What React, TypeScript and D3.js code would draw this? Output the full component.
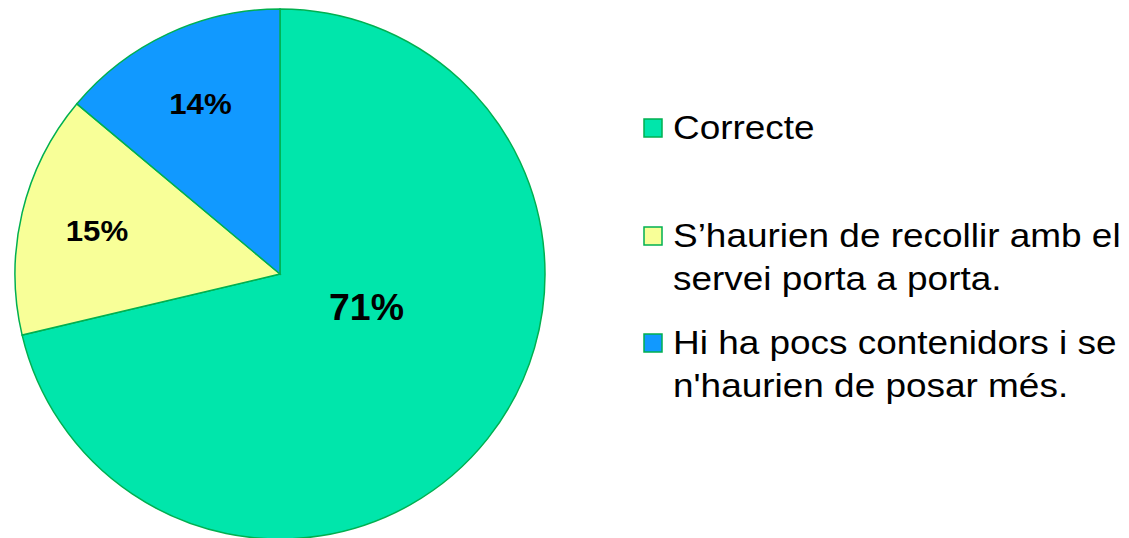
import React from 'react';
import * as d3 from 'd3';

const categories = [
  'Correcte',
  'S’haurien de recollir amb el servei porta a porta.',
  "Hi ha pocs contenidors i se n'haurien de posar més.",
];
const legendLines = [
  ['Correcte'],
  ['S’haurien de recollir amb el', 'servei porta a porta.'],
  ['Hi ha pocs contenidors i se', "n'haurien de posar més."],
];
const values = [71.3, 14.8, 13.9];
const percentLabels = ['71%', '15%', '14%'];
const colors = ['#00E6AB', '#F8FF98', '#1199FF'];

const width = 1129;
const height = 538;
const cx = 280;
const cy = 274;
const radius = 265;
const textStretch = 1.12;

const App: React.FC = () => {
  const pie = d3.pie<number>().sort(null).value(d => d);
  const arcs = pie(values);
  const arc = d3.arc<d3.PieArcDatum<number>>().innerRadius(0).outerRadius(radius);

  const labelPos = (a: d3.PieArcDatum<number>, i: number): [number, number] => {
    const mid = (a.startAngle + a.endAngle) / 2;
    if (i === 0) {
      // large slice: label pulled toward the centre-right
      return d3.pointRadial(mid - 0.3, radius * 0.35) as [number, number];
    }
    return d3.pointRadial(mid, radius * 0.71) as [number, number];
  };

  // legend rows: baseline of first line for each item
  const legendY = d3.scaleOrdinal<string, number>().domain(categories).range([139, 247, 354]);
  const lineHeight = 43;
  const textX = 673;

  return (
    <svg
      width={width}
      height={height}
      style={{ position: 'absolute', left: 0, top: 0, background: '#fff' }}
      fontFamily="'Liberation Sans', Arial, sans-serif"
    >
      <g transform={`translate(${cx},${cy})`}>
        {arcs.map((a, i) => (
          <path key={i} d={arc(a) || ''} fill={colors[i]} stroke="#00B050" strokeWidth={1.5} />
        ))}
        {arcs.map((a, i) => {
          const [x, y] = labelPos(a, i);
          return (
            <text
              key={i}
              transform={`translate(${x},${y}) scale(1.04,1)`}
              textAnchor="middle"
              dominantBaseline="central"
              fontWeight="bold"
              fontSize={i === 0 ? 36 : 30}
              fill="#000"
            >
              {percentLabels[i]}
            </text>
          );
        })}
      </g>
      {categories.map((c, i) => {
        const y0 = legendY(c);
        return (
          <g key={c}>
            <rect
              x={644}
              y={y0 - 20}
              width={18}
              height={18}
              fill={colors[i]}
              stroke="#00B050"
              strokeWidth={1.5}
            />
            {legendLines[i].map((line, j) => (
              <text
                key={j}
                transform={`translate(${textX},${y0 + j * lineHeight}) scale(${textStretch},1)`}
                fontSize={33}
                fill="#000"
              >
                {line}
              </text>
            ))}
          </g>
        );
      })}
    </svg>
  );
};

export default App;
